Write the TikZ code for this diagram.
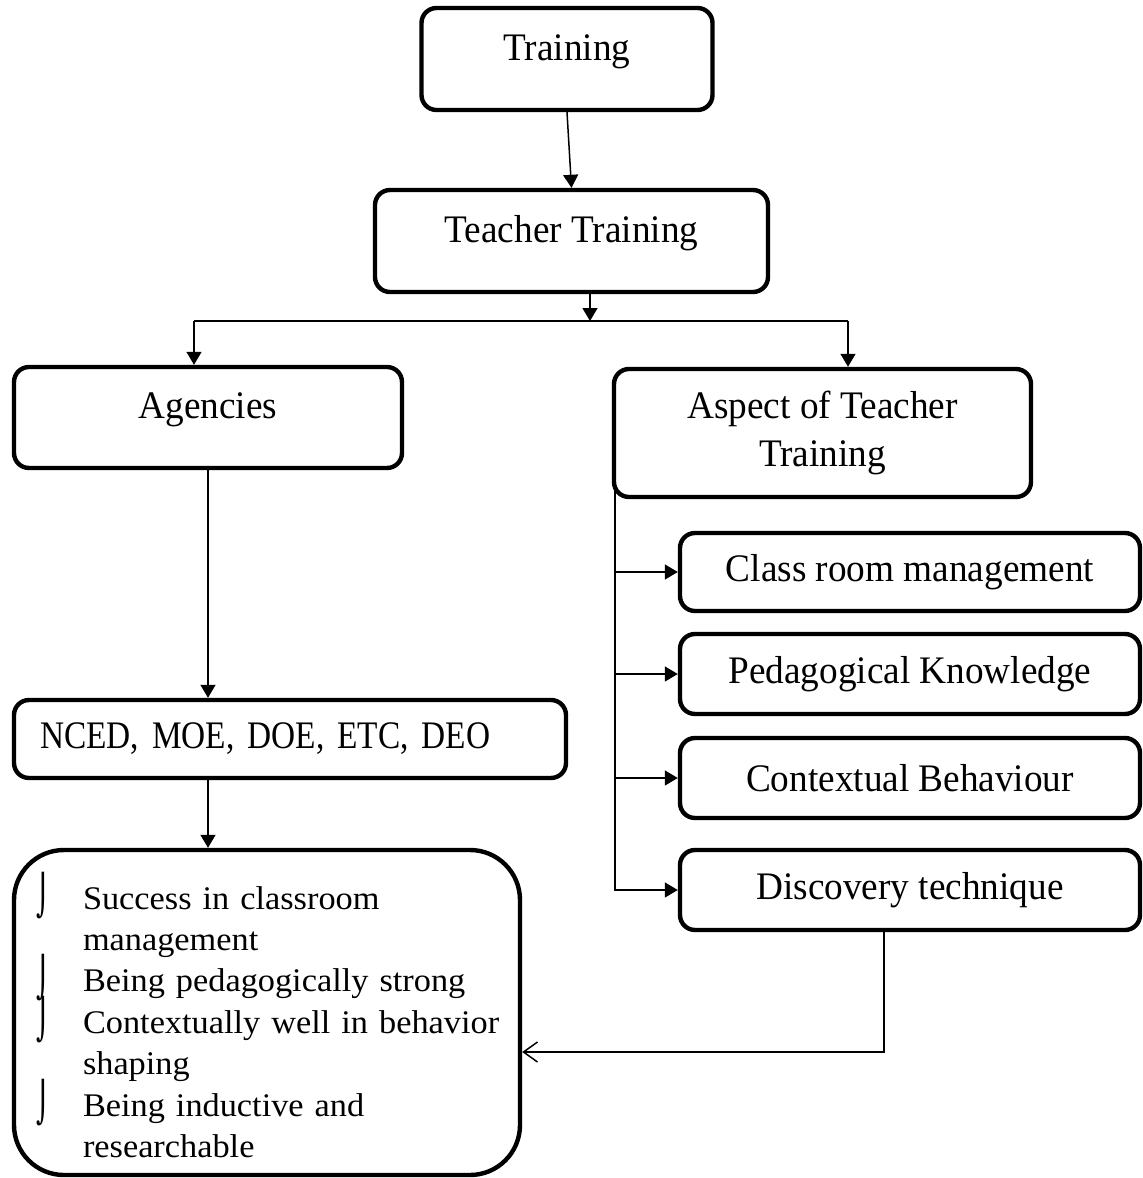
\documentclass[tikz,border=0pt]{standalone}
\usepackage{graphicx}
\usepackage{fontspec}
\setmainfont{Liberation Serif}[FakeStretch=0.955]
\newfontfamily\ncedfont{Liberation Serif}[FakeStretch=0.855]
\newfontfamily\goalfont{Liberation Serif}[FakeStretch=1.04]
\newfontfamily\bulletfont{DejaVu Sans}
\usetikzlibrary{arrows.meta}
\newcommand{\bul}{\hspace*{5pt}\makebox[23pt][l]{\smash{\scalebox{0.8}[1.2]{\bulletfont ⌡}}}}
\newcommand{\ind}{\hspace*{28pt}}

\begin{document}
\begin{tikzpicture}[x=0.5pt,y=-0.5pt,
  box/.style={draw, line width=2.2pt, rounded corners=7.5pt, align=center, inner sep=0pt, font=\fontsize{19.5}{24}\selectfont},
  tall/.style={box, text height=14pt, text depth=13pt},
  arr/.style={-{Triangle[length=6.5pt,width=7.5pt]}, line width=0.75pt},
  conn/.style={line width=0.75pt}]
\useasboundingbox (0,0) rectangle (1142,1178);
% top of the tree
\node [tall, minimum width=145.5pt, minimum height=51pt] (T) at (567,59) {Training};
\node [tall, minimum width=196.5pt, minimum height=51pt] (TT) at (571.5,241) {Teacher Training};
\node [tall, minimum width=194pt, minimum height=50.5pt] (A) at (208,417.5) {Agencies};
\node [box, minimum width=208.5pt, minimum height=64pt] (AT) at (822.5,433) {Aspect of Teacher\\Training};
% left branch
\node [box, minimum height=39pt, text width=250pt, inner xsep=13pt, align=left, font=\fontsize{19.5}{24}\ncedfont] (N) at (290,739) {NCED, MOE, DOE, ETC, DEO};
\node [draw, line width=2.2pt, rounded corners=25pt, minimum width=253pt, minimum height=162.5pt, text width=240pt, inner xsep=6.5pt, align=left, font=\fontsize{16.5}{20.7}\goalfont] (G) at (267,1012.5)
  {\rule{0pt}{21pt}\bul Success in classroom\\ \ind management\\ \bul Being pedagogically strong\\ \bul Contextually well in behavior\\ \ind shaping\\ \bul Being inductive and\\ \ind researchable};
% right branch
\node [box, minimum width=230pt, minimum height=39pt] (C1) at (910,572) {Class room management};
\node [box, minimum width=230pt, minimum height=40pt] (C2) at (910,674) {Pedagogical Knowledge};
\node [box, minimum width=230pt, minimum height=40pt] (C3) at (910,778) {Contextual Behaviour};
\node [box, minimum width=230pt, minimum height=40pt] (C4) at (910,890) {Discovery technique};
% connectors
\draw [arr] (T.south) -- (TT.north);
\coordinate (s) at (590,321);
\coordinate (l) at (194,321);
\coordinate (r) at (848,321);
\draw [arr] (s |- TT.south) -- (s);
\draw [conn] (l) -- (r);
\draw [arr] (l) -- (l |- A.north);
\draw [arr] (r) -- (r |- AT.north);
\draw [arr] (A.south) -- (A.south |- N.north);
\draw [arr] (A.south |- N.south) -- (A.south |- G.north);
\coordinate (t) at (615,482);
\draw [arr] (t |- C1.west) -- (C1.west);
\draw [arr] (t |- C2.west) -- (C2.west);
\draw [arr] (t |- C3.west) -- (C3.west);
\draw [arr] (t) |- (C4.west);
\coordinate (b) at (884,1052);
\draw [conn, -{Straight Barb[length=7pt,width=10pt]}] (b |- C4.south) -- (b) -- (b -| G.east);
\end{tikzpicture}
\end{document}
